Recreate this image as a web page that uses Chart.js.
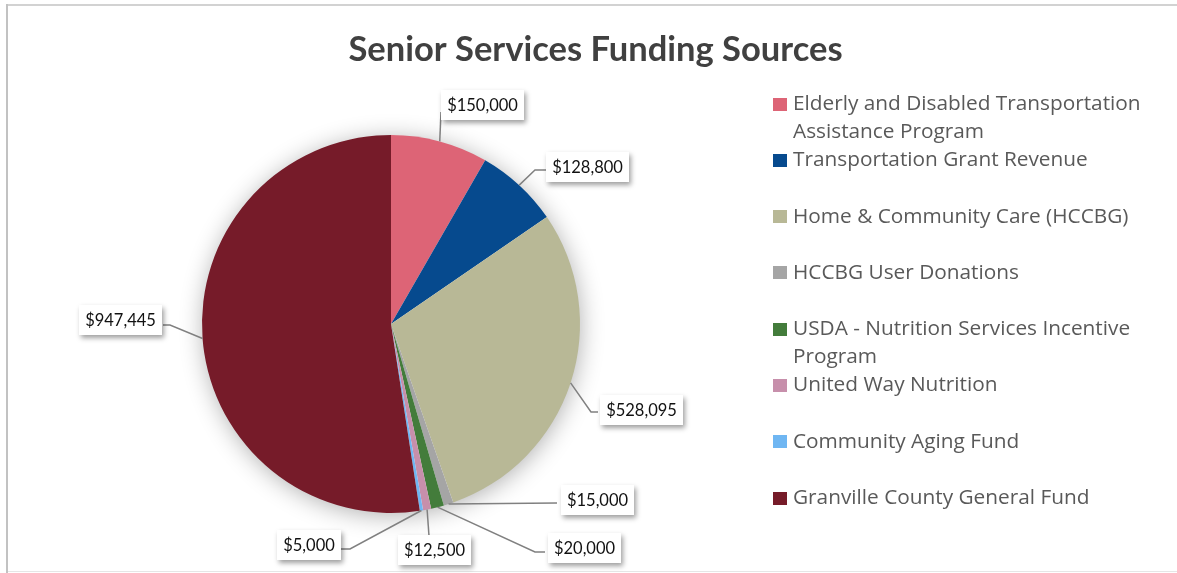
<!DOCTYPE html>
<html>
<head>
<meta charset="utf-8">
<title>Senior Services Funding Sources</title>
<script src="https://cdn.jsdelivr.net/npm/chart.js@4.4.0/dist/chart.umd.min.js"></script>
<style>
  html, body { margin: 0; padding: 0; background: #fff; }
  canvas { display: block; }
</style>
</head>
<body>
<canvas id="chart" width="1177" height="573"></canvas>
<script>
// Funding sources and amounts (USD)
const chartTitle = 'Senior Services Funding Sources';
const categories = [
  'Elderly and Disabled Transportation Assistance Program',
  'Transportation Grant Revenue',
  'Home & Community Care (HCCBG)',
  'HCCBG User Donations',
  'USDA - Nutrition Services Incentive Program',
  'United Way Nutrition',
  'Community Aging Fund',
  'Granville County General Fund'
];
const amounts = [150000, 128800, 528095, 15000, 20000, 12500, 5000, 947445];
const sliceColors = ['#dd6476', '#064a8e', '#b8b896', '#a5a5a5', '#437c3b', '#c78fab', '#6fb6f2', '#761b29'];

// Callout placement, relative to the pie centre: leader path after the rim point, and label box centre
const callouts = [
  { path: [[50, -212]],              box: [91, -219] },
  { path: [[144, -154], [156, -154]], box: [196.5, -157.5] },
  { path: [[200, 88], [207, 88]],     box: [250.5, 85.5] },
  { path: [[166, 179]],               box: [206, 176] },
  { path: [[144, 228], [154, 228]],   box: [193, 223.5] },
  { path: [[38, 212]],                box: [43, 226] },
  { path: [[-41, 225], [-51, 225]],   box: [-82.5, 221] },
  { path: [[-221, 1], [-228, 1]],     box: [-270.5, -4.5] }
];

const FONT = 'Lato, "Open Sans", sans-serif';
const LEGEND_FONT = '"Open Sans", Lato, sans-serif';
const money = v => '$' + v.toLocaleString('en-US');

function wrapText(ctx, text, maxWidth) {
  const words = text.split(' ');
  const lines = [];
  let line = '';
  for (const w of words) {
    const test = line ? line + ' ' + w : w;
    if (ctx.measureText(test).width > maxWidth && line) {
      lines.push(line);
      line = w;
    } else {
      line = test;
    }
  }
  if (line) lines.push(line);
  return lines;
}

const decor = {
  id: 'decor',
  beforeDraw(chart) {
    const { ctx, width, height } = chart;
    ctx.save();
    ctx.fillStyle = '#ffffff';
    ctx.fillRect(0, 0, width, height);
    // frame
    ctx.fillStyle = '#d2d2d2';
    ctx.fillRect(6, 4, width - 6, 2);
    ctx.fillStyle = '#c2c2c2';
    ctx.fillRect(6, 4, 2, height - 4);
    ctx.fillStyle = '#e6e6e6';
    ctx.fillRect(8, height - 2, width - 8, 1);
    // title
    ctx.fillStyle = '#404040';
    ctx.font = 'bold 34.5px ' + FONT;
    ctx.textAlign = 'center';
    ctx.textBaseline = 'middle';
    ctx.fillText(chartTitle, 595.5, 50);
    ctx.restore();
  },
  beforeDatasetsDraw(chart) {
    // soft glow behind the pie
    const { ctx } = chart;
    const arc = chart.getDatasetMeta(0).data[0];
    ctx.save();
    ctx.shadowColor = 'rgba(0,0,0,0.32)';
    ctx.shadowBlur = 24;
    ctx.shadowOffsetX = 1;
    ctx.shadowOffsetY = 3;
    ctx.fillStyle = '#ffffff';
    ctx.beginPath();
    ctx.arc(arc.x, arc.y, arc.outerRadius - 1, 0, Math.PI * 2);
    ctx.fill();
    ctx.restore();
  },
  afterDatasetsDraw(chart) {
    const { ctx } = chart;
    const meta = chart.getDatasetMeta(0);
    const values = chart.data.datasets[0].data;
    ctx.save();
    ctx.font = '16.5px ' + FONT;
    meta.data.forEach((arc, i) => {
      const c = callouts[i];
      const mid = (arc.startAngle + arc.endAngle) / 2;
      const sx = arc.x + Math.cos(mid) * arc.outerRadius;
      const sy = arc.y + Math.sin(mid) * arc.outerRadius;
      // leader line
      ctx.strokeStyle = '#808080';
      ctx.lineWidth = 1.5;
      ctx.beginPath();
      ctx.moveTo(sx, sy);
      c.path.forEach(p => ctx.lineTo(arc.x + p[0], arc.y + p[1]));
      ctx.stroke();
      // label box
      const text = money(values[i]);
      const tw = ctx.measureText(text).width;
      const bw = Math.round(tw + 12), bh = 30;
      const bx = Math.round(arc.x + c.box[0] - bw / 2);
      const by = Math.round(arc.y + c.box[1] - bh / 2);
      ctx.save();
      ctx.shadowColor = 'rgba(0,0,0,0.38)';
      ctx.shadowBlur = 5;
      ctx.shadowOffsetX = 2;
      ctx.shadowOffsetY = 3;
      ctx.fillStyle = '#ffffff';
      ctx.fillRect(bx, by, bw, bh);
      ctx.restore();
      ctx.fillStyle = '#111111';
      ctx.textAlign = 'center';
      ctx.textBaseline = 'middle';
      ctx.fillText(text, bx + bw / 2, by + bh / 2 + 1);
    });
    ctx.restore();
  },
  afterDraw(chart) {
    // legend
    const { ctx } = chart;
    const labels = chart.data.labels;
    const colors = chart.data.datasets[0].backgroundColor;
    ctx.save();
    ctx.font = '20.8px ' + LEGEND_FONT;
    ctx.textAlign = 'left';
    ctx.textBaseline = 'middle';
    labels.forEach((label, i) => {
      const cy = 104 + i * 56.3;
      ctx.fillStyle = colors[i];
      ctx.fillRect(773, Math.round(cy - 6.5), 14, 13);
      ctx.fillStyle = '#595959';
      const lines = wrapText(ctx, label, 372);
      lines.forEach((ln, k) => ctx.fillText(ln, 793, cy + k * 28));
    });
    ctx.restore();
  }
};

new Chart(document.getElementById('chart'), {
  type: 'pie',
  data: {
    labels: categories,
    datasets: [{
      data: amounts,
      backgroundColor: sliceColors,
      borderWidth: 0
    }]
  },
  options: {
    responsive: false,
    animation: false,
    layout: { padding: { left: 202, right: 597, top: 135, bottom: 60 } },
    plugins: {
      legend: { display: false },
      title: { display: false },
      tooltip: { enabled: false }
    }
  },
  plugins: [decor]
});
</script>
</body>
</html>
